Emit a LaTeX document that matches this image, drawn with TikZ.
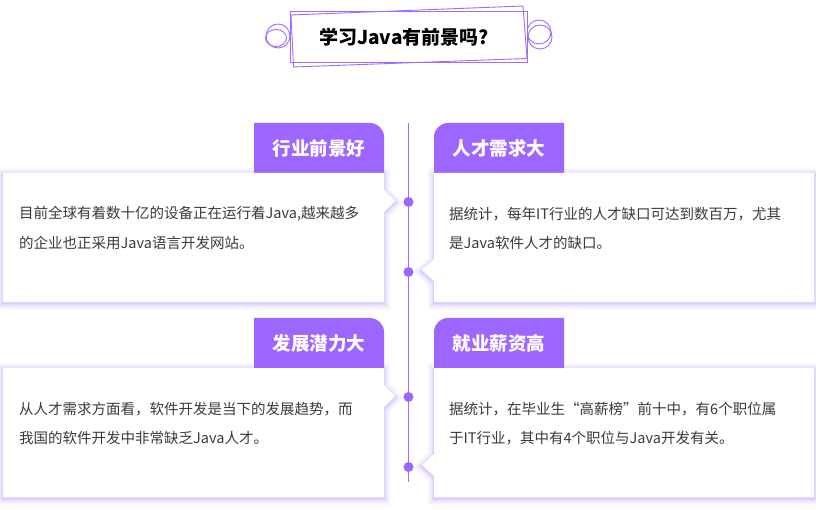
\documentclass[tikz,border=0pt]{standalone}
\usepackage{fontspec}
\setmainfont{Noto Sans CJK SC}
\definecolor{purp}{HTML}{9D66FF}
\definecolor{linep}{HTML}{9F6CFF}
\definecolor{glowc}{HTML}{B48CFF}
\definecolor{txt}{HTML}{3A3A3A}
\tikzset{
  tabtext/.style={text=white,font=\bfseries\fontsize{18.5}{20}\selectfont,inner sep=0pt},
  bodytext/.style={text=txt,font=\fontsize{14.5}{16}\selectfont,inner sep=0pt,anchor=west},
  dotnode/.style={circle,fill=purp,minimum size=10pt,inner sep=0pt},
  titlering/.style={draw=linep,line width=0.9pt},
}
\newcommand\myglow[1]{%
  \foreach \w/\o in {13/0.05,10/0.07,7/0.09,4/0.12,2/0.16}{%
    \draw[glowc,line width=\w pt,opacity=\o,line join=miter] #1;}}
\def\leftcardpath{(3,173) -- (384,173) -- (384,190) -- (395,201) -- (384,212) -- (384,302) -- (3,302) -- cycle}
\def\rightcardpath{(434,173) -- (814,173) -- (814,302) -- (434,302) -- (434,281) -- (422,270) -- (434,259) -- cycle}
\def\lefttabpath{(254,175) -- (254,123) -- (370,123) arc[start angle=-90,end angle=0,radius=14] -- (384,175) -- cycle}
\def\righttabpath{(434,175) -- (434,137) arc[start angle=180,end angle=270,radius=14] -- (564,123) -- (564,175) -- cycle}
\begin{document}
\begin{tikzpicture}[x=1pt,y=-1pt]
\useasboundingbox[fill=white] (0,0) rectangle (816,510);
% ---------- title ----------
\draw[titlering] (278,36) circle[radius=12];
\draw[titlering] (276,38) ellipse[x radius=10.5,y radius=8.5];
\draw[titlering] (539,32) circle[radius=12];
\draw[titlering] (540,37) circle[radius=12];
\fill[white] (290,11.5) rectangle (527,62);
\draw[titlering] (290,11.5) rectangle (527,62);
\draw[titlering] (291,15) -- (523,6) -- (527,58.5) -- (293.5,67) -- cycle;
\node[font=\bfseries\fontsize{19}{21}\selectfont,inner sep=0pt] (title) at (404,37) {学习Java有前景吗?};
% ---------- cards ----------
\foreach \dy in {0,195}{
\begin{scope}[shift={(0,\dy)}]
  \begin{scope}[yshift=-1.5pt]\myglow{\leftcardpath}\myglow{\rightcardpath}\end{scope}
  \fill[purp] \lefttabpath;
  \fill[purp] \righttabpath;
  \fill[white] \leftcardpath;
  \fill[white] \rightcardpath;
\end{scope}}
% ---------- tab labels ----------
\node[tabtext] (t1) at (319,148) {行业前景好};
\node[tabtext] (t2) at (499,148) {人才需求大};
\node[tabtext] (t3) at (319,343) {发展潜力大};
\node[tabtext] (t4) at (499,343) {就业薪资高};
% ---------- body text ----------
\node[bodytext] (a1) at (19,214) {目前全球有着数十亿的设备正在运行着Java,越来越多};
\node[bodytext] (a2) at (19,243) {的企业也正采用Java语言开发网站。};
\node[bodytext] (b1) at (449,214) {据统计，每年IT行业的人才缺口可达到数百万，尤其};
\node[bodytext] (b2) at (449,243) {是Java软件人才的缺口。};
\node[bodytext] (c1) at (19,409) {从人才需求方面看，软件开发是当下的发展趋势，而};
\node[bodytext] (c2) at (19,438) {我国的软件开发中非常缺乏Java人才。};
\node[bodytext] (d1) at (449,409) {据统计，在毕业生“高薪榜”前十中，有6个职位属};
\node[bodytext] (d2) at (449,438) {于IT行业，其中有4个职位与Java开发有关。};
% ---------- timeline ----------
\coordinate (ltop) at (408.5,123);
\coordinate (lbot) at (408.5,482);
\draw[linep,line width=1.5pt] (ltop) -- (lbot);
\node[dotnode] (p1) at (408.5,202) {};
\node[dotnode] (p2) at (408.5,272) {};
\node[dotnode] (p3) at (408.5,397) {};
\node[dotnode] (p4) at (408.5,467) {};
\end{tikzpicture}
\end{document}
